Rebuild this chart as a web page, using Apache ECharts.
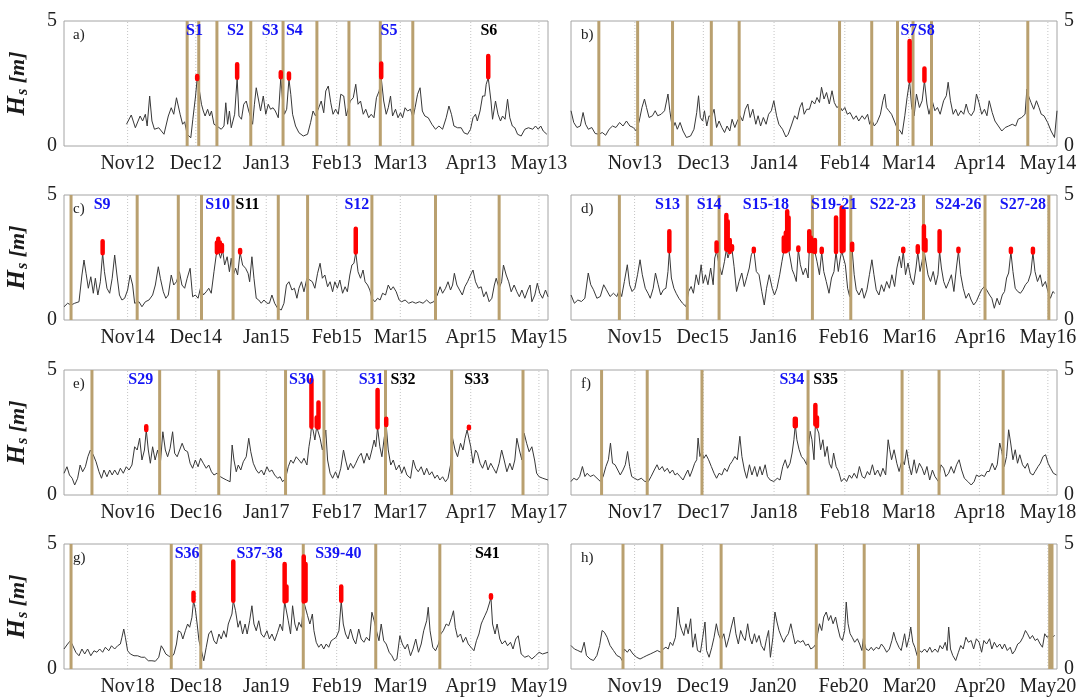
<!DOCTYPE html>
<html>
<head>
<meta charset="utf-8">
<script src="https://cdn.jsdelivr.net/npm/echarts@6/dist/echarts.min.js"></script>
<style>
  html, body { margin: 0; padding: 0; background: #fff; }
  #chart { width: 1080px; height: 698px; }
</style>
</head>
<body>
<div id="chart"></div>
<script>
// Significant wave height Hs [m], winter seasons 2012/13 - 2019/20.
// Each record: [days since 4 October of the season's first year, Hs].
const hsA = [[27.5,0.87],[29.6,1.24],[31.4,0.73],[33.5,1.2],[34.6,1.0],[35.8,1.27],[36.6,0.8],[37.7,2.0],[38.7,1.0],[39.8,0.67],[41.7,0.73],[44,0.47],[45.9,1.2],[47.2,1.53],[48.3,1.27],[49.5,1.93],[51.1,1.27],[52.2,0.87],[53.1,0.97],[54.2,0.47],[55.8,0.33],[56.7,1.07],[57.9,2.0],[58.6,2.7],[59.4,2.33],[60.5,1.67],[61.3,1.4],[62.1,1.2],[63.2,1.47],[64.1,1.2],[64.9,1.4],[66,0.87],[67.3,0.8],[69.2,0.67],[70.4,0.8],[71.2,1.73],[72,0.87],[72.8,1.4],[73.6,0.73],[75.1,1.27],[76.2,2.73],[77,1.2],[78.1,1.07],[79.1,1.67],[80.2,1.8],[81.3,1.4],[82.2,1.13],[83,0.87],[83.8,1.67],[84.6,2.33],[85.7,1.8],[86.5,1.4],[87.7,2.0],[88.8,1.27],[89.9,1.67],[90.9,1.47],[92,1.53],[93,1.4],[94.3,1.13],[95.4,2.73],[96.2,1.8],[97,1.27],[98,1.47],[99,2.67],[99.8,2.07],[100.6,1.27],[101.9,0.8],[103.4,0.53],[105.3,0.4],[107.2,0.47],[108.5,0.93],[109.6,1.4],[110.7,1.2],[112.1,1.53],[113.2,1.8],[114.3,1.33],[115.2,2.2],[116.3,2.4],[117.4,1.73],[118.4,1.27],[119.5,1.47],[120.7,1.27],[121.8,2.07],[123.1,2.0],[124.2,1.2],[125,1.13],[126,1.8],[127.3,1.93],[128.4,2.47],[129.4,1.67],[130.5,1.8],[131.7,1.27],[132.8,1.47],[134.1,1.13],[135.2,1.27],[136.4,1.13],[137.5,1.93],[138.7,2.2],[139.6,2.73],[140.7,1.8],[141.8,1.27],[142.7,1.53],[143.7,2.0],[144.6,1.2],[145.9,1.47],[147,1.13],[148.1,1.33],[149,1.13],[150.1,1.53],[151.2,1.4],[152.5,1.47],[153.6,1.13],[154.5,1.53],[155.6,2.07],[156.7,2.33],[157.7,1.4],[158.8,1.2],[160.3,1.13],[161.9,0.87],[163.5,0.67],[165,0.8],[166.6,0.67],[168.2,1.13],[169.4,1.6],[170.5,1.27],[171.6,0.8],[173.2,0.73],[174.8,0.73],[176,0.53],[177.6,0.47],[178.9,0.67],[180,1.13],[181.1,1.27],[181.9,1.0],[183.1,1.4],[184.2,2.0],[185.2,2.0],[185.8,2.47],[186.7,2.73],[187.9,1.8],[188.6,1.07],[189.9,1.8],[191,1.27],[192.1,1.0],[193,1.2],[194.1,1.07],[195.2,1.87],[196.2,1.13],[197.3,0.8],[198.4,0.73],[199.6,0.47],[201.2,0.4],[202.8,0.67],[204.4,0.73],[206.3,0.67],[207.5,0.8],[208.7,0.67],[209.8,0.8],[210.9,0.6],[212.5,0.47]];
const hsB = [[0,1.41],[1.2,0.94],[2.6,0.74],[4.1,0.8],[5.3,1.34],[6.4,0.87],[7.6,0.67],[9.1,0.74],[10.6,0.5],[12.2,0.47],[13.7,0.54],[15.2,0.43],[16.7,0.67],[18.2,0.8],[19.7,0.74],[21.3,0.94],[22.8,0.8],[24.3,1.0],[25.8,0.8],[27.3,0.74],[28.6,0.6],[29.9,1.0],[31.1,1.54],[32.2,1.88],[33.1,1.54],[34.2,1.14],[35.7,1.21],[36.9,1.41],[38,1.21],[39.5,1.27],[41,1.41],[42.5,2.08],[43.3,1.41],[44.5,0.67],[45.6,0.94],[46.6,0.67],[47.8,0.94],[49.1,0.6],[50.6,0.34],[52.4,0.4],[53.9,0.67],[55.1,1.34],[55.9,2.01],[56.7,1.14],[57.7,1.0],[58.5,1.41],[59.5,0.8],[60.5,1.21],[61.5,1.14],[62.7,1.47],[63.8,0.74],[64.9,1.0],[66.1,0.74],[67.3,0.54],[68.4,0.8],[69.6,0.6],[70.6,1.07],[71.8,0.74],[72.9,1.0],[74.1,1.21],[75.2,1.0],[76.4,1.47],[77.5,1.68],[78.5,1.14],[79.7,1.47],[81,0.87],[82,1.21],[83.1,0.8],[84.3,1.14],[85.5,0.87],[86.6,1.27],[87.8,1.41],[88.9,1.81],[90.1,1.21],[91.1,0.87],[92.7,0.67],[94.2,0.36],[95.2,0.47],[96.5,0.8],[98,1.21],[99.2,1.07],[100.3,1.54],[101.3,1.74],[102.2,1.27],[103.3,1.47],[104.5,1.47],[105.6,1.81],[106.8,1.68],[107.8,1.94],[108.9,1.74],[109.8,2.35],[110.9,1.88],[112,2.14],[113.2,1.68],[114.4,2.21],[115.4,1.74],[116.5,1.54],[117.7,1.61],[118.9,1.41],[120,1.54],[121.1,1.27],[122.3,1.34],[123.8,1.07],[125,1.21],[126.1,1.0],[127.6,1.21],[128.7,1.07],[130,1.27],[130.9,0.87],[131.8,1.07],[132.9,0.8],[134.1,0.94],[135.6,1.27],[136.7,1.81],[137.5,2.08],[138.2,1.54],[139.3,1.41],[140.5,1.27],[141.7,1.0],[142.8,0.74],[144.3,0.6],[145.1,0.47],[146.3,1.21],[147.3,1.94],[148.4,2.61],[149.3,1.54],[150.4,1.21],[151.4,2.08],[152.7,1.54],[153.9,1.81],[154.9,2.61],[156,1.68],[156.9,1.27],[158.3,1.81],[159.5,1.41],[160.6,1.54],[161.8,1.27],[163.3,1.81],[164.5,2.01],[165.3,2.55],[166.3,1.81],[167.5,1.27],[168.6,1.47],[169.7,1.21],[170.9,1.41],[172.1,1.27],[173.2,1.68],[174.2,1.34],[175.4,1.21],[176.7,1.41],[177.7,2.08],[178.8,1.74],[180,1.27],[181.2,1.47],[182.3,1.21],[183.3,1.81],[184.6,1.34],[185.8,1.0],[187.3,0.8],[188.8,0.6],[190.3,0.74],[191.8,0.8],[193.4,0.87],[194.9,0.8],[196,1.07],[197.5,1.14],[199,1.27],[199.8,2.28],[200.5,2.01],[201.6,1.74],[202.8,1.47],[204,1.81],[205.1,1.54],[206.1,1.27],[207.3,1.21],[208.9,0.94],[210.4,0.6],[211.9,0.34],[213,1.41]];
const hsC = [[0,0.53],[1.6,0.67],[3.1,0.6],[4.7,0.67],[6.6,0.73],[7.9,1.8],[8.8,2.4],[9.7,1.87],[10.7,1.27],[11.8,1.73],[12.9,1.07],[13.8,1.67],[14.9,1.0],[16,1.53],[17,2.67],[17.8,1.93],[18.9,1.27],[20.1,1.07],[21.2,1.67],[22.3,2.6],[23.3,1.8],[24.4,1.0],[25.5,0.8],[26.7,0.87],[28,1.2],[29.1,1.8],[30.2,1.4],[31.1,0.67],[33,0.73],[34.3,0.53],[35.8,0.73],[37.4,0.8],[39,1.0],[40.2,1.4],[41.5,2.13],[42.4,1.67],[43.7,1.13],[44.8,0.87],[45.9,1.0],[47.2,1.8],[48.3,1.4],[49.5,1.53],[50.8,1.93],[51.9,1.4],[53.1,1.27],[54.2,1.67],[55.5,2.07],[56.6,0.93],[57.8,1.0],[59,0.87],[60.2,1.33],[61.3,1.0],[62.6,1.13],[63.7,1.27],[64.8,1.07],[66,1.93],[67,2.6],[67.9,2.8],[68.9,2.47],[69.8,2.8],[70.7,2.2],[71.8,2.53],[72.8,1.93],[73.6,2.47],[74.5,1.8],[75.5,2.07],[76.4,1.8],[77.5,2.7],[78.6,2.2],[79.9,2.07],[81,1.87],[81.7,1.53],[82.7,2.53],[83.6,1.67],[84.6,0.87],[85.7,0.8],[86.8,0.67],[88,0.8],[89.3,0.67],[90.4,0.67],[91.5,1.0],[92.7,0.67],[94,0.47],[95.6,0.4],[96.8,0.67],[97.9,1.4],[99,1.53],[100.3,1.2],[101.4,1.27],[102.5,0.87],[103.4,1.27],[104.5,1.53],[105.6,1.13],[106.9,1.67],[108.2,1.6],[109.3,1.53],[110.4,1.27],[111.6,1.87],[112.7,2.27],[113.7,1.67],[114.8,1.8],[116,1.33],[117.1,1.53],[118.2,1.13],[119.2,1.53],[120.3,1.27],[121.4,1.6],[122.6,1.07],[123.7,1.33],[124.7,1.13],[125.8,1.8],[126.7,2.2],[127.6,2.27],[128.4,2.7],[129.4,1.93],[130.5,1.67],[131.6,2.0],[132.5,1.53],[133.6,1.4],[134.6,1.2],[135.5,0.87],[136.8,0.73],[138,0.87],[139.1,0.8],[140.2,1.07],[141.5,1.0],[142.7,1.4],[143.8,1.2],[144.9,1.33],[146.2,1.13],[147.5,0.8],[148.6,0.73],[150.1,0.8],[151.7,0.67],[153.3,0.73],[154.8,0.67],[156.4,0.73],[158,0.67],[159.6,0.8],[161.1,0.67],[162.7,0.73],[164.3,1.0],[165.5,1.33],[166.6,1.07],[167.9,1.27],[169,1.53],[170.1,1.2],[171,1.4],[171.8,1.87],[172.9,1.4],[174.1,1.2],[175.3,1.0],[176.4,1.33],[177.6,1.53],[178.9,1.8],[180,2.0],[181.1,1.53],[182.4,1.27],[183.6,1.33],[184.7,0.93],[185.8,1.13],[187.1,0.73],[188.3,0.87],[189.4,1.4],[190.2,1.67],[191.5,1.27],[192.6,1.53],[193.4,2.2],[194.6,1.8],[195.7,1.53],[196.8,1.13],[198.1,1.4],[199.3,1.13],[200.4,0.93],[201.5,1.2],[202.8,0.87],[204.1,1.2],[205.1,1.4],[205.9,0.73],[207.2,1.0],[208.3,1.47],[209.4,1.07],[210.6,0.87],[211.9,1.2],[213,0.93]];
const hsD = [[0,1.0],[1.5,0.67],[3,0.8],[4.6,0.74],[6.1,0.87],[7.6,1.88],[8.7,1.41],[9.9,1.21],[11.4,0.87],[12.9,0.94],[14.4,1.41],[15.6,1.21],[17.2,0.94],[18.7,1.07],[20.2,0.94],[21.3,1.21],[22.3,0.94],[23.5,1.54],[24.8,2.21],[25.8,1.41],[26.9,1.14],[28.1,1.27],[29.3,1.81],[30.4,2.41],[31.4,1.81],[32.7,1.27],[33.9,1.07],[34.9,0.87],[36.2,1.27],[37.2,1.88],[38.4,1.41],[39.5,1.0],[40.7,1.21],[41.8,1.27],[42.7,1.94],[43.3,2.75],[44.2,1.68],[45.3,1.27],[46.3,1.07],[47.5,0.87],[49.1,0.67],[50.6,0.54],[51.8,1.14],[52.9,1.34],[53.9,1.07],[55.1,1.81],[56.2,1.41],[57.3,2.21],[58.2,1.47],[59.2,1.81],[60.3,1.41],[61.5,2.08],[62.6,1.41],[63.3,2.48],[64.1,2.75],[65.2,2.21],[66.4,1.81],[67.6,2.35],[68.4,2.82],[69.1,2.48],[69.9,2.72],[70.9,2.82],[71.8,2.14],[72.9,1.14],[74,1.54],[75.2,1.88],[76.3,1.34],[77.5,1.74],[78.5,2.08],[79.4,2.61],[80.5,2.82],[81.6,1.94],[82.8,1.81],[84,1.14],[85.1,0.6],[86.1,1.27],[87.3,1.81],[88.6,1.27],[89.6,1.0],[90.7,1.27],[91.9,1.81],[92.9,2.35],[93.7,2.75],[94.6,2.75],[95.2,2.82],[95.8,2.82],[96.5,2.48],[97.4,2.01],[98.3,1.81],[99.2,1.54],[100.1,2.82],[101,2.21],[102.2,1.81],[103.3,2.08],[104.4,1.68],[104.9,2.75],[105.6,2.78],[106.5,2.75],[107.4,2.72],[108.3,2.35],[109.4,1.81],[110.4,2.72],[111.3,1.94],[112.4,1.54],[113.6,1.07],[114.7,1.68],[115.8,1.94],[116.7,2.72],[117.7,1.94],[118.6,2.48],[119.2,2.75],[120,2.78],[120.8,2.21],[121.8,1.27],[122.7,0.94],[123.8,2.82],[124.7,1.81],[125.6,1.21],[126.8,1.0],[128.1,1.27],[129.1,0.87],[130.3,1.21],[131.4,1.81],[132.5,2.41],[133.4,1.81],[134.4,1.21],[135.6,1.0],[136.7,1.41],[137.8,1.14],[139,1.54],[140.2,1.27],[141.3,1.81],[142.5,1.34],[143.5,2.08],[144.6,2.55],[145.5,2.08],[146.3,2.75],[147.3,1.81],[148.4,2.28],[149.6,1.68],[150.8,1.41],[151.9,2.08],[152.7,2.72],[153.7,1.94],[154.6,2.35],[155.4,2.82],[156.1,2.78],[157.2,1.81],[158.3,1.54],[159.5,1.94],[160.6,1.41],[161.6,1.81],[162.3,2.75],[163.1,2.08],[164.1,1.54],[165.2,1.27],[166.4,1.54],[167.5,1.81],[168.6,1.14],[169.7,2.08],[170.6,2.75],[171.6,1.81],[172.7,1.27],[173.9,0.87],[175.1,1.07],[176.2,0.8],[177.3,0.6],[178.5,0.74],[179.7,1.0],[180.8,1.21],[182,1.34],[183,1.21],[184.3,1.0],[185.3,0.87],[186.4,0.47],[187.6,0.87],[188.7,0.6],[189.9,1.0],[190.9,1.14],[191.8,1.68],[192.7,1.88],[193.7,2.72],[194.6,1.94],[195.6,1.27],[196.7,1.14],[197.9,1.07],[199,1.21],[200.1,1.41],[201.3,1.54],[202.5,1.88],[203.4,2.7],[204.3,1.94],[205.4,1.54],[206.6,1.81],[207.6,1.34],[208.9,1.54],[210,1.14],[211.1,0.87],[212.2,1.14],[213,1.07]];
const hsE = [[0,0.87],[1.3,1.13],[2.4,0.8],[3.6,0.67],[4.7,0.4],[6,0.67],[7.1,1.2],[8.2,0.93],[9.4,1.13],[10.5,1.53],[11.6,1.8],[12.9,1.6],[14.1,1.33],[15.4,0.93],[16.5,0.67],[17.6,1.0],[18.9,0.73],[20.1,1.0],[21.2,0.8],[22.3,1.0],[23.6,0.8],[24.8,1.07],[26.1,0.87],[27.4,1.13],[28.6,1.0],[29.9,1.2],[31.1,1.93],[32.2,1.8],[33.3,2.27],[34.3,1.4],[35.4,1.8],[36.2,2.6],[37.1,1.8],[38,1.27],[39,1.93],[40.1,1.4],[41.2,1.8],[42.4,1.27],[43.5,2.53],[44.6,1.8],[45.6,1.53],[46.7,1.87],[47.8,2.53],[48.7,1.67],[49.8,1.53],[50.9,1.8],[52,2.07],[53.1,1.8],[54.4,1.73],[55.5,1.27],[56.6,1.07],[57.8,1.4],[59,1.13],[60.1,1.47],[61.3,1.27],[62.6,1.07],[63.7,1.2],[64.9,0.93],[66,0.8],[67.3,0.87],[68.9,0.73],[70,0.67],[71.5,0.6],[73.1,0.53],[74,2.0],[74.8,1.4],[75.8,0.93],[76.7,1.2],[77.8,1.0],[78.9,1.33],[80.2,1.53],[81.3,2.27],[82.2,1.73],[83.3,1.27],[84.6,1.0],[85.7,0.87],[86.9,1.0],[88,0.8],[89.3,1.13],[90.4,0.93],[91.5,1.0],[92.7,0.8],[94,0.67],[95.1,0.73],[96.2,0.53],[97.5,0.67],[98.7,1.13],[99.8,1.4],[100.9,1.27],[102.2,1.53],[103.4,1.4],[104.5,1.27],[105.6,1.47],[106.9,1.2],[107.8,1.93],[108.5,2.33],[108.9,2.73],[109.6,2.6],[110.4,2.2],[111.2,2.73],[112,2.7],[112.7,2.27],[113.7,1.8],[114.4,2.07],[115.2,2.6],[116,1.4],[117.1,0.87],[118.2,0.67],[119.5,0.93],[120.6,0.67],[121.8,1.07],[123,1.8],[123.9,1.4],[125,1.0],[126.1,1.27],[127.3,1.07],[128.4,1.27],[129.7,1.53],[130.8,1.67],[132,1.27],[133.3,1.67],[134.4,1.4],[135.5,1.8],[136.5,2.2],[137.2,1.93],[138,2.7],[139,1.93],[139.9,1.53],[140.9,2.27],[141.8,2.8],[142.7,1.8],[143.8,1.2],[144.9,1.4],[146.2,1.0],[147.5,1.2],[148.6,0.87],[149.7,1.13],[150.9,0.8],[152.5,0.67],[153.7,1.4],[154.8,1.07],[155.9,0.93],[157.2,1.13],[158.5,0.8],[159.6,1.07],[160.8,0.8],[161.9,0.93],[163.2,0.67],[164.3,0.8],[165.4,0.6],[166.6,0.73],[167.9,0.53],[169,0.67],[170.1,1.2],[171,2.27],[172.1,1.8],[173.2,1.53],[174.5,2.07],[175.6,1.8],[176.5,2.27],[177.4,2.6],[178.2,2.67],[179,1.93],[180,1.27],[181.1,1.8],[182,1.67],[183.1,1.27],[184.2,1.07],[185.5,1.4],[186.6,1.0],[187.8,1.27],[189,1.07],[190.2,0.87],[191.5,1.27],[192.6,1.8],[193.7,1.4],[194.9,0.93],[196.2,1.27],[197.3,1.0],[198.4,1.4],[199.3,2.27],[200.4,1.8],[201.5,1.4],[202.5,2.47],[203.6,2.07],[204.7,1.73],[205.9,1.93],[207.1,1.4],[208,0.87],[209.1,0.73],[210.7,0.67],[213,0.6]];
const hsF = [[0,0.54],[1.2,0.67],[2.6,0.6],[3.8,0.74],[5,1.14],[6.1,0.74],[7.1,0.87],[8.4,0.74],[9.9,0.8],[11.4,0.67],[12.9,0.54],[14.1,0.74],[15.3,1.14],[16.4,1.41],[17.3,2.08],[18.2,1.27],[19.3,1.21],[20.5,1.0],[21.6,0.8],[22.8,1.0],[23.8,1.21],[24.8,1.74],[25.7,1.14],[26.6,0.74],[27.8,0.67],[29.3,0.6],[30.8,0.67],[32.4,0.54],[33.9,0.54],[35.1,0.74],[36.5,1.0],[37.7,1.21],[38.7,1.0],[40,1.14],[41,0.94],[42.2,1.07],[43.3,0.87],[44.5,1.0],[45.6,0.8],[46.6,0.87],[47.8,0.74],[49.1,0.6],[50.1,0.8],[51.2,1.0],[52.1,0.74],[53.2,1.0],[54.2,1.27],[55.1,1.41],[55.7,2.28],[56.5,1.54],[57.3,1.74],[58.2,1.47],[59.2,1.61],[60.3,1.41],[61.5,1.14],[62.7,0.87],[63.8,0.67],[64.9,0.87],[66.1,0.8],[67.3,1.07],[68.4,0.94],[69.6,1.21],[70.6,1.34],[71.8,1.54],[72.9,1.41],[74,2.35],[74.9,1.54],[76,1.0],[77,0.67],[78.2,1.21],[79.3,0.8],[80.5,1.14],[81.6,0.74],[82.8,1.14],[83.8,0.8],[85.1,1.21],[86.1,0.74],[87.3,0.6],[88.9,0.54],[90.4,0.67],[91.6,0.6],[92.8,1.14],[93.9,1.41],[94.9,1.07],[96,1.27],[96.9,1.68],[97.7,2.21],[98.3,2.82],[99,2.21],[100,1.81],[101,1.54],[102.2,1.41],[103.3,1.21],[104,1.81],[104.8,2.55],[105.6,2.21],[106.5,1.41],[107.1,2.82],[107.8,2.75],[108.6,2.48],[109.4,1.81],[110.4,2.21],[111.3,1.54],[112.3,1.94],[113.2,1.27],[114.2,1.07],[115.1,1.68],[116.2,1.14],[117.3,0.94],[118.5,0.54],[119.7,0.67],[120.8,0.54],[122,0.8],[123,0.67],[124.1,0.87],[125.3,0.67],[126.4,1.14],[127.6,0.74],[128.7,0.67],[129.9,0.94],[130.9,0.8],[132.1,1.21],[133.2,0.8],[134.4,1.0],[135.6,0.74],[136.7,1.07],[137.9,0.8],[139,2.21],[139.7,1.81],[140.5,1.41],[141.6,1.81],[142.8,1.27],[143.8,0.94],[145.1,1.41],[146.1,1.21],[147.1,1.81],[148.1,1.21],[149.2,0.8],[150.4,1.41],[151.4,0.87],[152.7,1.27],[153.9,1.07],[154.9,0.8],[156,1.14],[157.2,0.6],[158.4,1.0],[159.5,0.74],[161,0.54],[162.1,1.21],[163.3,1.07],[164.3,0.74],[165.5,0.87],[166.6,1.14],[167.8,0.87],[169,1.21],[170.1,1.41],[171.2,1.0],[172.4,0.67],[173.9,0.54],[175.4,0.4],[176.7,0.54],[177.7,0.8],[178.8,0.74],[180,0.8],[181.2,0.74],[182.3,0.94],[183.3,0.94],[184.6,1.27],[185.8,1.0],[186.8,1.21],[187.9,2.08],[188.8,1.74],[189.9,1.14],[190.9,1.54],[191.8,2.61],[192.7,2.08],[193.7,1.41],[194.7,1.81],[195.7,1.27],[196.7,1.61],[197.9,1.21],[199,1.07],[200.1,1.27],[201.3,0.87],[202.5,0.8],[203.4,0.94],[204.7,1.14],[205.7,1.27],[206.9,1.54],[208,1.61],[209.1,1.27],[210.2,1.07],[211.4,0.87],[212.8,0.8]];
const hsG = [[0,0.8],[1.6,1.0],[2.8,1.13],[3.9,0.93],[5.2,0.67],[6.6,0.53],[7.9,0.8],[9.1,0.6],[10.4,0.8],[11.8,0.53],[13.2,0.73],[14.5,0.67],[15.7,0.8],[17,0.67],[18.2,0.87],[19.7,0.73],[20.9,0.93],[22.3,0.8],[23.6,0.93],[24.8,1.0],[25.5,1.27],[26.3,1.6],[27,1.27],[28,0.73],[29.2,0.6],[30.8,0.53],[32.4,0.53],[34,0.47],[35.5,0.47],[37.1,0.33],[38.7,0.33],[40.2,0.31],[41.7,0.47],[42.8,0.93],[43.7,0.8],[44.8,0.6],[45.9,0.53],[47.2,0.47],[48.4,0.6],[49.5,1.0],[50.3,1.53],[51.4,1.47],[52.3,1.2],[53.4,1.53],[54.4,1.8],[55.3,1.67],[56.3,2.07],[57,2.73],[57.8,2.4],[58.6,1.8],[59.4,1.13],[60.5,0.73],[61.5,0.33],[62.6,0.87],[63.7,1.4],[64.8,1.53],[66,1.13],[67.1,1.0],[68.2,1.4],[69.2,1.2],[70.3,1.53],[71.4,1.27],[72.3,1.8],[73.1,1.8],[73.9,2.2],[74.5,2.73],[75.5,2.33],[76.6,1.67],[77.5,1.93],[78.6,1.4],[79.7,1.8],[80.6,1.4],[81.7,1.93],[82.7,2.53],[83.6,1.8],[84.6,1.53],[85.7,1.93],[86.8,1.4],[88,1.27],[89.3,1.53],[90.4,1.2],[91.5,1.4],[92.7,1.13],[94,1.47],[95.1,1.8],[96.2,1.53],[97.1,2.7],[97.9,2.73],[98.7,1.93],[99.7,1.4],[100.6,2.53],[101.6,1.8],[102.5,1.53],[103.4,1.87],[104.5,1.67],[105.5,2.7],[106.3,2.73],[107.2,2.13],[108.2,1.8],[109.3,2.2],[110,1.53],[111,1.07],[112.1,0.87],[113.2,1.0],[114.3,0.8],[115.4,1.0],[116.5,0.87],[117.6,1.13],[118.7,1.2],[119.8,1.27],[121,1.53],[122,2.73],[122.9,1.8],[123.9,1.4],[125,1.2],[126.1,1.6],[127.3,1.2],[128.4,1.0],[129.7,1.6],[130.8,1.2],[132,1.07],[133.1,1.27],[134.4,1.13],[135.5,2.27],[136.5,1.93],[137.5,1.53],[138.6,1.13],[139.6,1.8],[140.7,1.13],[141.8,1.0],[143.1,0.67],[144.3,0.53],[145.4,0.33],[146.5,0.4],[147.8,1.33],[148.9,1.0],[150.1,0.8],[151.2,1.0],[152.5,0.53],[153.6,0.8],[154.8,1.2],[156,0.67],[157.2,1.0],[158.3,1.53],[159.6,1.93],[160.3,2.47],[161.1,1.53],[162.3,0.87],[163.5,0.73],[164.8,1.0],[165.8,1.4],[166.9,1.53],[168.2,1.8],[169.3,1.73],[170.6,2.07],[171.4,2.33],[172.2,1.67],[173.2,1.27],[174.5,1.4],[175.6,1.07],[176.8,1.27],[177.9,1.0],[179.1,0.87],[180.4,0.73],[181.5,1.13],[182.6,1.4],[183.6,1.8],[184.2,1.93],[185.2,2.13],[186.2,2.33],[187.1,2.6],[187.9,2.85],[188.6,1.8],[189.7,1.4],[190.6,1.8],[191.8,1.2],[192.8,1.0],[194.1,1.13],[195.2,0.93],[196.5,1.07],[197.6,0.8],[198.8,1.2],[199.9,1.33],[201.2,0.6],[202.8,0.47],[204.4,0.53],[205.9,0.4],[207.5,0.53],[209.1,0.67],[210.6,0.6],[213,0.67]];
const hsH = [[0,0.94],[1.5,0.8],[3,0.74],[4.6,0.67],[5.8,1.07],[6.8,0.54],[8.4,0.4],[9.9,0.34],[11.4,0.54],[12.6,0.94],[13.7,1.54],[14.7,1.47],[15.9,1.27],[17.2,0.94],[18.7,0.74],[20.2,0.54],[21.7,0.47],[22.5,0.34],[23.5,0.8],[24.8,0.67],[25.8,0.8],[27.3,0.6],[28.9,0.47],[30.4,0.4],[31.9,0.47],[33.4,0.54],[34.9,0.6],[36.5,0.67],[38,0.74],[39.5,0.67],[40.6,0.8],[41.8,0.87],[42.8,0.8],[43.7,1.07],[44.8,0.94],[46,1.27],[47.1,2.48],[47.9,1.81],[48.8,1.54],[49.7,1.34],[50.6,1.81],[51.6,1.41],[52.7,2.01],[53.6,0.87],[54.7,1.41],[55.7,0.74],[57,0.67],[58,1.27],[59,1.88],[59.7,0.74],[60.8,0.47],[62,0.87],[63,1.27],[64,1.81],[64.9,1.41],[66.1,1.14],[67.3,1.41],[68.4,0.87],[69.6,1.27],[70.6,1.68],[71.7,2.08],[72.6,1.41],[73.7,1.0],[74.7,1.54],[75.8,1.27],[76.7,1.14],[77.8,1.81],[78.7,1.27],[79.7,1.0],[80.8,1.41],[81.7,1.07],[82.8,1.34],[83.8,0.94],[85.1,0.74],[86.1,1.21],[87,1.54],[87.8,0.47],[88.9,1.27],[89.8,2.28],[90.7,1.88],[91.6,1.54],[92.7,1.27],[93.7,1.07],[94.6,1.27],[95.7,1.41],[96.8,1.81],[97.7,1.41],[98.7,1.0],[99.8,1.14],[101,1.07],[102.2,1.14],[103.3,0.94],[104.5,1.0],[105.6,0.8],[106.8,0.87],[107.8,1.0],[108.6,1.41],[109.4,1.81],[110.4,1.54],[111.3,2.08],[112.4,2.28],[113.4,1.94],[114.4,2.14],[115.4,1.81],[116.5,2.08],[117.4,1.68],[118.5,1.27],[119.5,1.14],[120.5,1.54],[121.2,2.68],[122,1.81],[122.9,1.41],[123.8,1.27],[124.9,1.07],[126.1,1.21],[127.1,1.0],[128.1,0.74],[128.7,1.21],[129.9,0.8],[131.1,0.74],[132.2,0.87],[133.2,0.74],[134.4,0.87],[135.6,0.8],[136.7,1.0],[137.8,0.87],[139,0.67],[140.2,0.8],[141.3,1.14],[142.1,1.47],[143.1,1.14],[144.4,0.87],[145.4,0.74],[146.3,1.14],[146.9,1.41],[147.8,0.87],[148.9,1.27],[149.6,1.68],[150.5,1.07],[151.4,0.87],[152.4,0.54],[153.4,0.74],[154.5,0.67],[155.7,0.8],[156.8,0.67],[158,0.87],[159,0.67],[160.3,0.8],[161.5,0.67],[162.5,0.94],[163.6,0.8],[164.8,1.07],[165.6,0.74],[166.3,1.68],[167.1,0.8],[168.1,0.54],[169.4,0.34],[170.6,0.67],[171.6,0.94],[172.7,0.8],[173.9,1.27],[175,1.07],[176.2,1.14],[177.3,0.8],[178.5,1.21],[179.7,1.07],[180.8,0.67],[181.8,1.14],[183,1.0],[184.3,1.21],[185.3,0.8],[186.4,1.07],[187.6,0.87],[188.8,1.0],[189.9,0.8],[190.9,1.0],[192.1,0.74],[193.4,0.87],[194.4,0.6],[195.5,0.74],[196.7,1.0],[197.8,1.07],[199,1.27],[200.1,1.54],[201,1.41],[202.1,1.21],[203.2,1.34],[204.4,1.14],[205.4,1.21],[206.6,1.0],[207.6,0.87],[208.6,1.41],[209.6,1.27],[210.7,1.34],[211.9,1.27],[213,1.34]];

// Storm peaks above the threshold: [day, Hs at threshold crossing, peak Hs]
const peaksA = [[58.6,2.68,2.8],[76.2,2.73,3.27],[95.4,2.75,2.95],[99,2.7,2.9],[139.6,2.75,3.3],[186.7,2.75,3.6]];
const peaksB = [[148.4,2.61,4.2],[154.9,2.61,3.1]];
const peaksC = [[17,2.67,3.15],[67.3,2.7,3.1],[67.9,2.8,3.25],[68.6,2.75,3.1],[69.5,2.75,3.0],[77.5,2.7,2.8],[128.4,2.7,3.65]];
const peaksD = [[43.3,2.75,3.55],[64.1,2.75,3.1],[68.4,2.82,4.2],[69.0,2.8,3.95],[69.9,2.72,3.2],[70.9,2.82,2.95],[80.5,2.75,2.85],[93.7,2.75,3.3],[94.6,2.75,3.5],[95.2,2.82,4.35],[95.8,2.82,4.1],[100.1,2.8,2.9],[104.9,2.75,3.55],[105.6,2.78,3.3],[106.5,2.75,3.0],[107.4,2.72,3.2],[110.4,2.72,2.85],[116.7,2.72,4.1],[119.2,2.75,4.5],[120,2.78,4.4],[123.8,2.8,3.05],[146.3,2.75,2.85],[152.7,2.72,2.95],[155.4,2.82,3.75],[156.1,2.78,3.2],[162.3,2.75,3.55],[170.6,2.75,2.85],[193.7,2.72,2.85],[203.4,2.7,2.85]];
const peaksE = [[36.2,2.6,2.75],[108.9,2.73,4.6],[111.2,2.73,3.1],[112,2.7,3.7],[138,2.7,4.2],[141.8,2.8,3.05],[178.2,2.67,2.73]];
const peaksF = [[98.1,2.75,3.05],[98.5,2.75,3.05],[107.1,2.82,3.6],[107.8,2.75,3.1]];
const peaksG = [[57,2.73,3.05],[74.5,2.73,4.3],[97.1,2.7,4.2],[97.9,2.73,3.3],[105.5,2.7,4.5],[106.3,2.73,4.2],[122,2.73,3.3],[187.9,2.85,2.95]];
const peaksH = [];

// Storm start / end markers (days since 4 October)
const goldA = [54.2,59.3,67.3,82.2,96.4,111.3,125.4,139.2,153.5];
const goldB = [12.2,29.2,44.5,61.5,73.7,117.7,131.8,143.1,149.9,158,200.2];
const goldC = [3.1,32.2,50.3,60.5,74.4,94.3,107.2,135.5,163.5,191.5];
const goldD = [21.3,51.2,65.2,106.3,123.2,155.2,182.3,210.4];
const goldE = [12.3,42.1,68.1,97.5,114.4,141.5,170.6,202];
const goldF = [13.4,33.4,57.4,103.9,145.1,161.3,189.4];
const goldG = [3.1,47.2,60.2,105.3,137.2,165.4];
const goldH = [22.9,40,66.1,108,129.1,153,210.8,211.8];

// Storm names, their positions (days) and those printed in black
const stormNamesA = ['S1','S2','S3','S4','S5','S6'];
const stormDaysA = [57.4,75.5,90.7,101.4,143,187];
const stormNamesB = ['S7','S8'];
const stormDaysB = [148.1,155.7];
const stormNamesC = ['S9','S10','S11','S12'];
const stormDaysC = [16.8,67.6,80.8,128.9];
const stormNamesD = ['S13','S14','S15-18','S19-21','S22-23','S24-26','S27-28'];
const stormDaysD = [42.5,60.8,85.8,115.9,141.7,170.6,199];
const stormNamesE = ['S29','S30','S31','S32','S33'];
const stormDaysE = [33.8,104.5,135.2,149.2,181.6];
const stormNamesF = ['S34','S35'];
const stormDaysF = [96.8,111.6];
const stormNamesG = ['S36','S37-38','S39-40','S41'];
const stormDaysG = [54.2,86.1,120.7,186.3];
const stormNamesH = [];
const stormDaysH = [];
const blackStorms = ['S6','S11','S32','S33','S35','S41'];

const panelTags = ['a)','b)','c)','d)','e)','f)','g)','h)'];
const seasonStartYears = [2012,2013,2014,2015,2016,2017,2018,2019];
const MONTH_ABBR = ['Jan','Feb','Mar','Apr','May','Jun','Jul','Aug','Sep','Oct','Nov','Dec'];
const TICK_MONTHS = [10,11,0,1,2,3,4]; // Nov .. May

const DAY = 86400000;
const SERIF = 'Liberation Serif';
const GRID_LEFT = [64, 571];
const GRID_WIDTH = [484, 486];
const GRID_TOP = [21, 195, 370, 544];
const GRID_HEIGHT = 125;

const allHs = [hsA,hsB,hsC,hsD,hsE,hsF,hsG,hsH];
const allPeaks = [peaksA,peaksB,peaksC,peaksD,peaksE,peaksF,peaksG,peaksH];
const allGold = [goldA,goldB,goldC,goldD,goldE,goldF,goldG,goldH];
const allNames = [stormNamesA,stormNamesB,stormNamesC,stormNamesD,stormNamesE,stormNamesF,stormNamesG,stormNamesH];
const allDays = [stormDaysA,stormDaysB,stormDaysC,stormDaysD,stormDaysE,stormDaysF,stormDaysG,stormDaysH];

function monthLabel(v) {
  const d = new Date(v);
  return MONTH_ABBR[d.getUTCMonth()] + String(d.getUTCFullYear() % 100).padStart(2, '0');
}

// vertical segments from y0 to y1 at each x, separated by gaps
function verticals(xs, y0, y1) {
  const out = [];
  xs.forEach(x => { out.push([x, y0], [x, y1], [x, null]); });
  return out;
}

const grid = [], xAxis = [], yAxis = [], series = [], title = [];

for (let i = 0; i < 8; i++) {
  const col = i % 2, row = Math.floor(i / 2);
  const y0 = seasonStartYears[i];
  const t0 = Date.UTC(y0, 9, 4);
  const tEnd = Date.UTC(y0 + 1, 4, 5);
  const toT = d => t0 + d * DAY;
  const monthTicks = TICK_MONTHS.map(m => Date.UTC(m >= 9 ? y0 : y0 + 1, m, 1));

  grid.push({
    left: GRID_LEFT[col], top: GRID_TOP[row], width: GRID_WIDTH[col], height: GRID_HEIGHT,
    show: true, borderColor: '#a4a4a4', borderWidth: 1, backgroundColor: '#fff'
  });

  xAxis.push({
    gridIndex: i, type: 'value', min: t0, max: tEnd,
    axisLine: { show: false }, axisTick: { show: false }, splitLine: { show: false },
    axisLabel: {
      customValues: monthTicks, formatter: monthLabel,
      fontFamily: SERIF, fontSize: 20, color: '#222', margin: 8
    }
  });

  const yAx = {
    gridIndex: i, type: 'value', min: 0, max: 5, interval: 5,
    position: col === 0 ? 'left' : 'right',
    axisLine: { show: false }, axisTick: { show: false }, splitLine: { show: false },
    axisLabel: { fontFamily: SERIF, fontSize: 20, color: '#222', margin: 7 }
  };
  if (col === 0) {
    Object.assign(yAx, {
      name: '{h|H}{s|s}{u| [m]}', nameLocation: 'middle', nameRotate: 90, nameGap: 33,
      nameTextStyle: {
        rich: {
          h: { fontFamily: SERIF, fontSize: 25, fontWeight: 'bold', fontStyle: 'italic', color: '#1a1a1a' },
          s: { fontFamily: SERIF, fontSize: 16, fontWeight: 'bold', fontStyle: 'italic', color: '#1a1a1a', padding: [10, 0, 0, 1] },
          u: { fontFamily: SERIF, fontSize: 22, fontWeight: 'bold', fontStyle: 'italic', color: '#1a1a1a' }
        }
      }
    });
  }
  yAxis.push(yAx);

  // month grid lines
  series.push({
    type: 'line', xAxisIndex: i, yAxisIndex: i, silent: true, symbol: 'none', z: 1,
    data: verticals(monthTicks, 0, 5),
    lineStyle: { color: '#c4c4c4', width: 1, type: [1, 2] }
  });
  // Hs record
  series.push({
    type: 'line', xAxisIndex: i, yAxisIndex: i, silent: true, symbol: 'none', z: 2,
    data: allHs[i].map(([d, h]) => [toT(d), h]),
    lineStyle: { color: '#383838', width: 1 }
  });
  // storm boundaries
  series.push({
    type: 'line', xAxisIndex: i, yAxisIndex: i, silent: true, symbol: 'none', z: 3,
    data: verticals(allGold[i].map(toT), 0, 5),
    lineStyle: { color: '#b9a06f', width: 3 }
  });
  // exceedance above threshold
  const red = [];
  allPeaks[i].forEach(([d, lo, hi]) => { red.push([toT(d), lo], [toT(d), hi], [toT(d), null]); });
  series.push({
    type: 'line', xAxisIndex: i, yAxisIndex: i, silent: true, symbol: 'none', z: 4,
    data: red,
    lineStyle: { color: '#ff0000', width: 4.5, cap: 'round' }
  });
  // storm names
  series.push({
    type: 'scatter', xAxisIndex: i, yAxisIndex: i, silent: true, z: 5,
    symbolSize: 1, itemStyle: { color: 'rgba(0,0,0,0)', opacity: 1 },
    data: allNames[i].map((n, k) => ({
      name: n, value: [toT(allDays[i][k]), 4.62],
      label: { color: blackStorms.includes(n) ? '#000' : '#1414f5' }
    })),
    label: {
      show: true, position: 'inside', formatter: '{b}', opacity: 1,
      fontFamily: SERIF, fontWeight: 'bold', fontSize: 16
    }
  });

  title.push({
    text: panelTags[i], left: GRID_LEFT[col] + (col === 0 ? 4 : 5), top: GRID_TOP[row] + 2,
    textStyle: { fontFamily: SERIF, fontSize: 15, fontWeight: 'normal', color: '#222' }
  });
}

const chart = echarts.init(document.getElementById('chart'), null, { renderer: 'canvas' });
chart.setOption({
  animation: false,
  backgroundColor: '#fff',
  title, grid, xAxis, yAxis, series
});
</script>
</body>
</html>
